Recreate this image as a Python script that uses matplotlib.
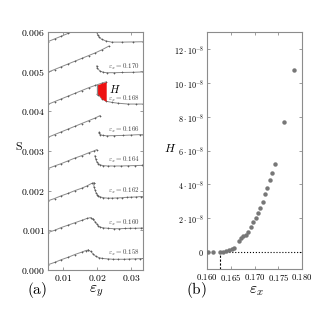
import matplotlib
matplotlib.use("Agg")
import matplotlib.pyplot as plt
import numpy as np

plt.rcParams['mathtext.fontset'] = 'cm'
plt.rcParams['font.family'] = ['serif']
plt.rcParams['font.serif'] = ['DejaVu Serif']

# ---------------- data: panel (a), S vs eps_y (values in 1e-3) ----------------
eps_x_labels = [0.158, 0.160, 0.162, 0.164, 0.166, 0.168, 0.170, 0.172]

# loading (left) branches
left_x = [
    [5.4, 7.4, 9.4, 11.4, 13.4, 15.4, 16.6, 17.3],
    [5.4, 7.4, 9.4, 11.4, 13.4, 15.4, 17.0, 18.0, 18.6],
    [5.4, 7.4, 9.4, 11.4, 13.4, 15.4, 17.0, 18.3, 18.9],
    [5.4, 7.4, 9.4, 11.4, 13.4, 15.4, 17.4, 19.0, 19.8],
    [5.4, 7.4, 9.4, 11.4, 13.4, 15.4, 17.4, 19.4, 20.8],
    [5.4, 7.4, 9.4, 11.4, 13.4, 15.4, 17.4, 19.4, 21.4, 22.6],
    [5.4, 7.4, 9.4, 11.4, 13.4, 15.4, 17.4, 19.4, 21.4, 23.4],
    [5.4, 7.4, 9.4, 11.4, 13.4, 15.4],
]
left_y = [
    [0.13, 0.19, 0.26, 0.32, 0.39, 0.45, 0.49, 0.50],
    [0.94, 1.00, 1.07, 1.13, 1.19, 1.25, 1.30, 1.32, 1.29],
    [1.74, 1.80, 1.87, 1.93, 2.00, 2.06, 2.12, 2.18, 2.19],
    [2.55, 2.62, 2.68, 2.75, 2.82, 2.88, 2.95, 3.00, 3.03],
    [3.34, 3.41, 3.48, 3.55, 3.62, 3.69, 3.76, 3.83, 3.89],
    [4.17, 4.24, 4.31, 4.38, 4.45, 4.52, 4.59, 4.65, 4.71, 4.74],
    [4.98, 5.05, 5.12, 5.19, 5.26, 5.33, 5.40, 5.47, 5.55, 5.64],
    [5.75, 5.82, 5.89, 5.96, 6.03, 6.10],
]

# unloading (right) branches
right_x = [
    [17.3, 18.0, 18.8, 19.6, 20.5, 21.5, 23.0, 24.6, 26.2, 27.8, 29.4, 31.0, 32.6, 33.5],
    [18.6, 19.3, 19.8, 20.3, 20.9, 21.8, 23.2, 24.8, 26.4, 28.0, 29.6, 31.2, 32.8, 33.5],
    [18.9, 19.0, 19.3, 19.6, 20.0, 20.3, 20.9, 21.8, 23.0, 24.4, 25.8, 27.2, 28.6, 30.0, 31.4, 32.8, 33.5],
    [19.3, 19.5, 19.8, 20.3, 20.8, 21.6, 23.0, 25.0, 27.0, 29.0, 31.0, 33.0, 33.5],
    [20.5, 20.6, 20.9, 21.6, 22.8, 25.0, 27.5, 30.0, 32.5, 33.5],
    [20.0, 20.3, 21.3, 22.6, 24.4, 26.2, 29.1, 31.5, 33.5],
    [19.8, 20.0, 20.8, 21.8, 22.8, 25.0, 27.2, 30.6, 33.5],
    [19.8, 20.1, 20.6, 21.3, 22.5, 24.2, 27.2, 30.6, 33.5],
]
right_y = [
    [0.50, 0.47, 0.40, 0.34, 0.31, 0.29, 0.28, 0.27, 0.27, 0.27, 0.275, 0.28, 0.285, 0.29],
    [1.29, 1.22, 1.16, 1.11, 1.08, 1.06, 1.05, 1.04, 1.04, 1.045, 1.05, 1.05, 1.055, 1.06],
    [2.19, 2.10, 2.02, 1.95, 1.90, 1.87, 1.84, 1.82, 1.81, 1.81, 1.815, 1.82, 1.83, 1.835, 1.84, 1.85, 1.85],
    [2.88, 2.80, 2.73, 2.68, 2.65, 2.63, 2.62, 2.62, 2.62, 2.625, 2.63, 2.635, 2.64],
    [3.47, 3.44, 3.41, 3.39, 3.38, 3.385, 3.39, 3.40, 3.41, 3.41],
    [4.44, 4.42, 4.31, 4.25, 4.22, 4.20, 4.18, 4.18, 4.18],
    [5.14, 5.08, 5.01, 4.98, 4.97, 4.97, 4.975, 4.98, 4.99],
    [5.99, 5.92, 5.86, 5.81, 5.77, 5.74, 5.74, 5.745, 5.75],
]

# hysteresis area H shown for eps_x = 0.168
H_curve_index = 5
H_x_range = [20.0, 22.6]

# ---------------- data: panel (b), H vs eps_x (H in 1e-8) ----------------
H_eps_x = [0.1603, 0.1613, 0.1627, 0.1634, 0.1640, 0.1646, 0.1652, 0.1657,
           0.1667, 0.1672, 0.1676, 0.1681, 0.1687, 0.1693, 0.1697, 0.1703,
           0.1708, 0.1712, 0.1718, 0.1722, 0.1727, 0.1732, 0.1737, 0.1742,
           0.1762, 0.1782]
H_vals = [0.0, 0.0, 0.0, 0.01, 0.04, 0.10, 0.18, 0.27,
          0.68, 0.82, 0.96, 1.02, 1.16, 1.47, 1.75, 2.00,
          2.33, 2.63, 2.98, 3.41, 3.80, 4.25, 4.70, 5.23,
          7.66, 10.75]
eps_x_critical = 0.1627

a_xticks = [0.01, 0.02, 0.03]
a_yticks = [0.000, 0.001, 0.002, 0.003, 0.004, 0.005, 0.006]
b_xticks = [0.160, 0.165, 0.170, 0.175, 0.180]
b_yticks = [0, 2, 4, 6, 8, 10, 12]

# ---------------- figure ----------------
fig = plt.figure(figsize=(3.18, 3.18), dpi=100)
axa = fig.add_axes([0.150, 0.151, 0.3006, 0.749])
axb = fig.add_axes([0.651, 0.154, 0.299, 0.745])

line_col = '#8a8a8a'
mk_col = '#5a5a5a'
spine_col = '#8c8c8c'

for i in range(len(eps_x_labels)):
    lx = np.array(left_x[i]) * 1e-3
    ly = np.array(left_y[i]) * 1e-3
    rx = np.array(right_x[i]) * 1e-3
    ry = np.array(right_y[i]) * 1e-3
    for xx, yy in ((lx, ly), (rx, ry)):
        axa.plot(xx, yy, '-', color=line_col, lw=0.7, marker='+', ms=1.6, mew=0.5, mec=mk_col)
    if i < 7:
        lvl = ry[-1]
        axa.text(0.0231, lvl + 0.00013, r'$\varepsilon_x=%.3f$' % eps_x_labels[i],
                 fontsize=5.0, color='#444444', va='center', ha='left')

# red hysteresis area
i = H_curve_index
xs = np.linspace(H_x_range[0], H_x_range[1], 40)
top = np.interp(xs, left_x[i], left_y[i]) * 1e-3
bot = np.interp(xs, right_x[i], right_y[i]) * 1e-3
axa.fill_between(xs * 1e-3, bot, top, color='#ee1111', lw=0, zorder=3)
axa.plot([H_x_range[0] * 1e-3] * 2, [bot[0], top[0]], color=line_col, lw=0.9, zorder=4)
axa.text(0.0233, 0.00457, r'$H$', fontsize=8, va='center', ha='left')

axa.set_xlim(0.0054, 0.0335)
axa.set_ylim(0.0, 0.006)
axa.set_xticks(a_xticks)
axa.set_xticklabels([r'$%.2f$' % v for v in a_xticks])
axa.set_yticks(a_yticks)
axa.set_yticklabels([r'$%.3f$' % v for v in a_yticks])

# panel (b)
axb.plot([eps_x_critical, 0.180], [0, 0], ls=':', color='black', lw=0.8)
axb.plot([eps_x_critical, eps_x_critical], [-1, 0], ls='--', color='black', lw=0.8, dashes=(2, 1.5))
axb.plot(H_eps_x, H_vals, 'o', color='#777777', ms=3.2, mew=0, zorder=3)
axb.set_xlim(0.160, 0.180)
axb.set_ylim(-1, 13)
axb.set_xticks(b_xticks)
axb.set_xticklabels([r'$%.3f$' % v for v in b_xticks])
axb.set_yticks(b_yticks)
axb.set_yticklabels([r'$0$' if v == 0 else r'$%d\cdot10^{-8}$' % v for v in b_yticks])

for ax in (axa, axb):
    for s in ax.spines.values():
        s.set_color(spine_col)
        s.set_linewidth(0.8)
    ax.tick_params(direction='in', length=2.5, width=0.6, color=spine_col,
                   labelsize=7, top=True, right=True, pad=2)

axb.tick_params(axis='y', labelsize=5.8)
axb.tick_params(axis='x', labelsize=6.3)

fig.text(37 / 318, 1 - 290 / 318, r'$\mathrm{(a)}$', fontsize=11, ha='center', va='center')
fig.text(96 / 318, 1 - 291 / 318, r'$\varepsilon_y$', fontsize=11, ha='center', va='center')
fig.text(196 / 318, 1 - 290 / 318, r'$\mathrm{(b)}$', fontsize=11, ha='center', va='center')
fig.text(256 / 318, 1 - 291 / 318, r'$\varepsilon_x$', fontsize=11, ha='center', va='center')
fig.text(19 / 318, 1 - 146 / 318, r'$\mathrm{S}$', fontsize=8.5, ha='center', va='center')
fig.text(170 / 318, 1 - 148 / 318, r'$H$', fontsize=8.5, ha='center', va='center')

fig.savefig('out.png', dpi=100)
